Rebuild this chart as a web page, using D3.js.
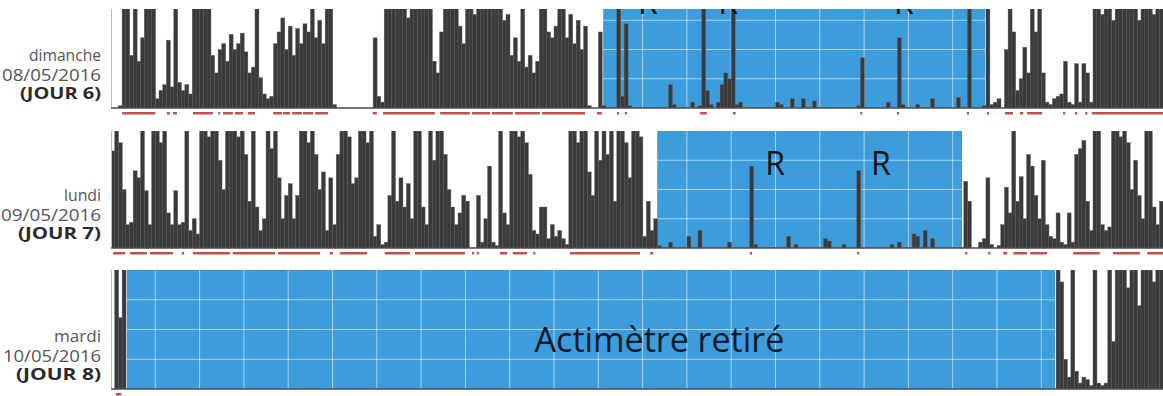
<!DOCTYPE html>
<html>
<head>
<meta charset="utf-8">
<script src="https://cdn.jsdelivr.net/npm/d3@7"></script>
<style>
  body { margin: 0; background: #fff; }
  svg { display: block; }
</style>
</head>
<body>
<div id="chart"></div>
<script>
// day labels
var dayNames = ["dimanche", "lundi", "mardi"];
var dayDates = ["08/05/2016", "09/05/2016", "10/05/2016"];
var dayNumbers = ["(JOUR 6)", "(JOUR 7)", "(JOUR 8)"];

// activity, one value per 5 min (12 per hour, 24 hours), 0-100
var activityJ6 = [
  0,0,2,100,85,45,100,40,60,100,100,95,
  8,15,20,58,18,100,22,15,20,12,100,100,
  100,90,100,45,30,50,55,40,63,50,55,64,
  48,30,35,100,26,12,8,10,55,65,77,50,
  70,45,68,55,72,65,100,60,75,55,100,90,
  3,0,0,0,0,0,0,0,0,0,0,60,
  10,5,100,100,90,100,100,100,77,100,100,95,
  100,100,90,40,30,65,100,100,95,100,70,55,
  100,100,80,100,100,85,100,100,100,90,75,80,
  45,60,40,100,35,45,30,40,100,100,65,60,
  70,100,100,60,80,55,75,50,70,2,0,0,
  65,2,0,0,0,100,10,72,2,0,0,0,
  0,0,0,0,0,0,0,20,3,0,0,0,
  0,5,0,2,100,15,3,0,5,20,30,25,
  100,3,5,0,0,0,0,0,0,0,0,0,
  5,3,0,0,8,0,0,8,0,0,6,0,
  0,0,0,0,0,0,0,0,0,0,2,43,
  0,0,0,0,0,0,5,0,0,60,3,0,
  0,0,3,0,0,0,8,0,0,0,0,0,
  0,9,0,0,88,0,0,0,2,100,3,5,
  8,0,50,100,65,15,25,52,30,100,65,100,
  30,5,3,8,10,12,40,5,3,38,5,38,
  30,5,100,100,80,100,100,75,100,100,100,85,
  100,100,75,100,100,100,80,100,100,100,100,100
];
var activityJ7 = [
  83,100,90,50,20,22,66,60,100,49,20,100,
  100,90,100,30,20,49,20,22,100,15,25,12,
  100,100,95,100,100,75,50,100,100,100,95,100,
  80,40,100,35,15,25,100,85,100,60,25,45,
  55,25,45,100,100,90,100,80,50,65,15,60,
  20,80,100,100,95,55,60,100,100,90,100,10,
  20,3,5,45,100,40,60,35,55,25,100,100,
  35,20,100,75,100,100,80,50,35,20,30,45,
  40,0,0,45,5,25,70,5,2,100,30,20,
  100,100,95,100,90,63,15,12,35,35,8,20,
  10,15,8,3,100,100,90,100,100,65,45,100,
  75,100,80,100,40,100,100,90,60,100,100,95,
  10,40,15,25,2,0,0,5,0,0,0,0,
  10,0,0,15,0,0,0,0,0,0,0,5,
  0,0,0,0,0,70,3,0,0,0,0,0,
  0,0,0,10,0,3,0,0,0,0,0,0,
  0,8,6,0,0,0,3,0,0,0,66,0,
  0,0,0,0,0,0,0,3,0,5,0,0,
  0,12,10,0,15,0,8,0,0,0,0,0,
  0,0,0,57,40,0,0,5,8,60,3,0,
  2,20,52,30,100,40,61,25,80,70,45,25,
  75,20,10,8,30,5,3,30,5,80,85,92,
  40,15,100,100,20,15,18,100,100,95,100,90,
  50,75,45,25,100,100,35,20,40,0,0,0
];
var activityJ8 = [
  0,100,60,100,0,0,0,0,0,0,0,0,
  0,0,0,0,0,0,0,0,0,0,0,0,
  0,0,0,0,0,0,0,0,0,0,0,0,
  0,0,0,0,0,0,0,0,0,0,0,0,
  0,0,0,0,0,0,0,0,0,0,0,0,
  0,0,0,0,0,0,0,0,0,0,0,0,
  0,0,0,0,0,0,0,0,0,0,0,0,
  0,0,0,0,0,0,0,0,0,0,0,0,
  0,0,0,0,0,0,0,0,0,0,0,0,
  0,0,0,0,0,0,0,0,0,0,0,0,
  0,0,0,0,0,0,0,0,0,0,0,0,
  0,0,0,0,0,0,0,0,0,0,0,0,
  0,0,0,0,0,0,0,0,0,0,0,0,
  0,0,0,0,0,0,0,0,0,0,0,0,
  0,0,0,0,0,0,0,0,0,0,0,0,
  0,0,0,0,0,0,0,0,0,0,0,0,
  0,0,0,0,0,0,0,0,0,0,0,0,
  0,0,0,0,0,0,0,0,0,0,0,0,
  0,0,0,0,0,0,0,0,0,0,0,0,
  0,0,0,0,0,0,0,0,0,0,0,0,
  0,0,0,0,0,0,0,0,0,0,0,0,
  0,0,0,0,100,90,25,10,100,15,5,10,
  8,3,100,5,3,5,100,40,100,100,100,85,
  100,100,70,100,100,100,90,100,100,100,100,100
];

// blue periods (hours)
var bluePeriods = [[11.11, 19.73], [12.33, 19.21], [0.36, 21.31]];

// red marks under each day (hours)
var redJ6 = [[0.25,1.0],[1.26,1.33],[1.40,1.49],[1.85,2.30],[2.42,2.46],[2.53,2.75],[2.80,2.98],
  [3.09,3.25],[3.66,3.86],[3.88,4.04],[4.09,4.31],[4.33,4.56],[4.61,4.90],[5.91,6.0],[6.14,7.31],
  [7.43,8.10],[8.15,8.56],[8.60,9.07],[9.12,9.68],[9.73,10.70],[10.97,11.08],[11.42,11.47],
  [11.60,11.65],[13.30,13.45],[14.04,14.10],[16.91,16.96],[17.74,17.79],[19.32,19.37],
  [19.77,19.82],[20.18,20.36],[20.52,20.59],[20.68,21.02],[21.49,21.54],[21.76,21.81],
  [21.99,22.04],[22.14,24]];
var redJ7 = [[0.05,0.32],[0.43,0.81],[0.88,1.40],[1.60,1.65],[1.85,2.69],[2.75,3.70],[3.77,4.72],
  [4.94,5.01],[5.17,5.78],[6.18,6.75],[6.86,7.99],[8.15,8.20],[8.26,8.31],[8.78,8.94],
  [9.07,9.39],[9.53,9.58],[10.36,11.94],[12.17,12.24],[14.42,14.47],[16.84,16.89],
  [19.28,19.33],[19.80,19.85],[20.14,20.23],[20.37,20.68],[20.75,21.13],[21.72,22.32],
  [22.62,23.23],[23.39,24]];
var redJ8 = [[0.11,0.23]];

// "R" marks (hours)
var remJ6 = [12.12, 13.93, 17.9];
var remJ7 = [14.99, 17.38];
var removedText = "Actimètre retiré";
var removedAt = 12.38;

var days = [
  { act: activityJ6, red: redJ6, rem: remJ6, blue: bluePeriods[0] },
  { act: activityJ7, red: redJ7, rem: remJ7, blue: bluePeriods[1] },
  { act: activityJ8, red: redJ8, rem: [], blue: bluePeriods[2] }
];

// layout of each row (label widths follow the scan)
var rows = [
  { base: 108, h: 117, top: 9, remY: 14, lw: [72, 99, 81] },
  { base: 248, h: 117, top: 131, remY: 175, lw: [37, 100, 83] },
  { base: 389, h: 119, top: 270, remY: 0, lw: [47, 98, 85] }
];

var width = 1163, height = 396;

var svg = d3.select("#chart").append("svg")
  .attr("width", width)
  .attr("height", height)
  .style("font-family", "'Open Sans', sans-serif");

var x = d3.scaleLinear().domain([0, 24]).range([111, 111 + 44.3 * 24]);
var bw = x(1 / 12) - x(0);

days.forEach(function (day, i) {
  var r = rows[i];
  var y = d3.scaleLinear().domain([0, 100]).range([r.base, r.base - r.h]);

  var clipId = "clip" + i;
  svg.append("clipPath").attr("id", clipId)
    .append("rect")
    .attr("x", x(0)).attr("y", r.top)
    .attr("width", width - x(0)).attr("height", r.base - r.top);

  var g = svg.append("g").attr("clip-path", "url(#" + clipId + ")");

  g.append("rect")
    .attr("x", x(day.blue[0]))
    .attr("y", y(100))
    .attr("width", x(day.blue[1]) - x(day.blue[0]))
    .attr("height", r.h)
    .attr("fill", "#3d9cdc");

  g.selectAll(".vgrid")
    .data(d3.range(0, 25))
    .enter().append("line")
    .attr("x1", function (d) { return x(d); })
    .attr("x2", function (d) { return x(d); })
    .attr("y1", y(100)).attr("y2", y(0))
    .attr("stroke", "#fff").attr("stroke-opacity", 0.55);

  g.selectAll(".hgrid")
    .data([25, 50, 75])
    .enter().append("line")
    .attr("x1", x(0)).attr("x2", width)
    .attr("y1", function (d) { return y(d); })
    .attr("y2", function (d) { return y(d); })
    .attr("stroke", "#fff").attr("stroke-opacity", 0.55);

  g.selectAll(".bar")
    .data(day.act)
    .enter().append("rect")
    .attr("x", function (d, j) { return x(j / 12); })
    .attr("y", function (d) { return y(d); })
    .attr("width", bw + 0.3)
    .attr("height", function (d) { return y(0) - y(d); })
    .attr("fill", "#3a3a3a")
    .attr("stroke", "#666")
    .attr("stroke-width", 0.4);

  day.rem.forEach(function (t) {
    g.append("text")
      .attr("x", x(t)).attr("y", r.remY)
      .attr("text-anchor", "middle")
      .attr("font-size", 32)
      .attr("fill", "#151515")
      .text("R");
  });

  if (i == 2) {
    g.append("text")
      .attr("x", x(removedAt)).attr("y", 352)
      .attr("text-anchor", "middle")
      .attr("font-size", 34)
      .attr("fill", "#0e1a28")
      .text(removedText);
  }

  // left edge and baseline
  svg.append("line")
    .attr("x1", x(0) + 0.5).attr("x2", x(0) + 0.5)
    .attr("y1", r.top).attr("y2", r.base)
    .attr("stroke", "#bbb");
  svg.append("line")
    .attr("x1", x(0)).attr("x2", width)
    .attr("y1", r.base).attr("y2", r.base)
    .attr("stroke", "#4a4a4a").attr("stroke-width", 1.5);

  svg.selectAll(".red" + i)
    .data(day.red)
    .enter().append("rect")
    .attr("x", function (d) { return x(d[0]); })
    .attr("y", r.base + 4)
    .attr("width", function (d) { return Math.max(2, x(d[1]) - x(d[0])); })
    .attr("height", 2.5)
    .attr("fill", "#c0504d");

  var lab = svg.append("g").attr("text-anchor", "end").attr("font-size", 16);
  var lines = [dayNames[i], dayDates[i], dayNumbers[i]];
  var dy = [-47, -27.5, -9];
  lines.forEach(function (s, k) {
    lab.append("text")
      .attr("x", 101).attr("y", r.base + dy[k])
      .attr("textLength", r.lw[k])
      .attr("lengthAdjust", "spacingAndGlyphs")
      .attr("fill", k == 2 ? "#2a2a2a" : "#555")
      .attr("font-weight", k == 2 ? "bold" : "normal")
      .text(s);
  });
});
</script>
</body>
</html>
